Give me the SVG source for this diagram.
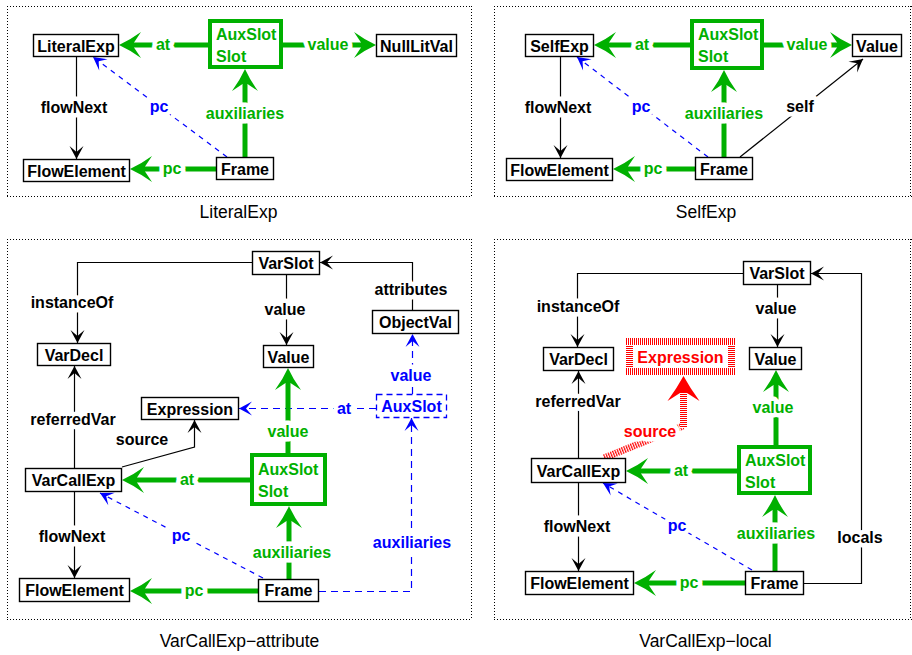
<svg xmlns="http://www.w3.org/2000/svg" width="912" height="655" viewBox="0 0 912 655">
<style>
  .frame{fill:none;stroke:#000;stroke-width:1;stroke-dasharray:1 2;shape-rendering:crispEdges}
  .cap{font-family:'Liberation Sans',Arial,sans-serif;font-size:17.5px;fill:#000;text-anchor:middle}
  .box{fill:#fff;stroke:#000;stroke-width:1.4}
  .nt{font-family:'Liberation Sans',Arial,sans-serif;font-weight:bold;font-size:16px;text-anchor:middle;fill:#000}
  .slot{fill:#fff;stroke:#00b000;stroke-width:4}
  .st{font-family:'Liberation Sans',Arial,sans-serif;font-weight:bold;font-size:16px;fill:#00b000}
  .aux{fill:#fff;stroke:#0000ff;stroke-width:1.3;stroke-dasharray:6 4}
  .bt{fill:#0000ff}
  .rt{fill:#f00}
  .g{fill:none;stroke:#00b000;stroke-width:5;marker-end:url(#ahG)}
  .k{fill:none;stroke:#000;stroke-width:1.2}
  .ka{marker-end:url(#ahK)}
  .b{fill:none;stroke:#0000ff;stroke-width:1.2;stroke-dasharray:5 5;marker-end:url(#ahB)}
  .bl{fill:none;stroke:#0000ff;stroke-width:1.2;stroke-dasharray:7 5;marker-end:url(#ahB)}
  .lbl{font-family:'Liberation Sans',Arial,sans-serif;font-weight:bold;font-size:16px;text-anchor:middle;stroke:#fff;stroke-width:9;stroke-linejoin:round;paint-order:stroke}
  .lg{fill:#00b000}.lk{fill:#000}.lb{fill:#0000ff}.lr{fill:#f00}
</style>
<defs>
  <marker id="ahG" markerUnits="userSpaceOnUse" viewBox="-24 -15 26 30" refX="-14" refY="0" markerWidth="26" markerHeight="30" orient="auto">
    <path d="M0,0 Q-11,-5 -22,-13 L-15,-2.5 L-15,2.5 L-22,13 Q-11,5 0,0 Z" fill="#00b000"/>
  </marker>
  <marker id="ahK" markerUnits="userSpaceOnUse" viewBox="-15 -9 16 18" refX="0" refY="0" markerWidth="16" markerHeight="18" orient="auto">
    <path d="M0,0 L-13,-7 L-7,0 L-13,7 Z" fill="#000"/>
  </marker>
  <marker id="ahB" markerUnits="userSpaceOnUse" viewBox="-15 -9 16 18" refX="0" refY="0" markerWidth="16" markerHeight="18" orient="auto">
    <path d="M0,0 L-13,-7 L-7,0 L-13,7 Z" fill="#0000ff"/>
  </marker>
  <!-- striped red fills for the highlighted (hatched) element -->
  <pattern id="stripeV" patternUnits="userSpaceOnUse" width="2" height="2">
    <rect width="2" height="2" fill="#fff"/><rect width="1" height="2" fill="#f00"/>
  </pattern>
  <pattern id="stripeH" patternUnits="userSpaceOnUse" width="2" height="2">
    <rect width="2" height="2" fill="#fff"/><rect width="2" height="1" fill="#f00"/>
  </pattern>
  <pattern id="stripeD" patternUnits="userSpaceOnUse" width="2.4" height="2.4" patternTransform="rotate(-22)">
    <rect width="2.4" height="2.4" fill="#fff"/><rect width="1.2" height="2.4" fill="#f00"/>
  </pattern>
</defs>

<!-- panel frames (dotted, one line per side) and captions -->
<g id="frames">
  <line class="frame" x1="7" y1="6.5" x2="472" y2="6.5"/>
  <line class="frame" x1="7" y1="196.5" x2="472" y2="196.5"/>
  <line class="frame" x1="7.5" y1="6" x2="7.5" y2="197"/>
  <line class="frame" x1="471.5" y1="6" x2="471.5" y2="197"/>
  <line class="frame" x1="494" y1="6.5" x2="912" y2="6.5"/>
  <line class="frame" x1="494" y1="196.5" x2="912" y2="196.5"/>
  <line class="frame" x1="494.5" y1="6" x2="494.5" y2="197"/>
  <line class="frame" x1="910.5" y1="6" x2="910.5" y2="197"/>
  <line class="frame" x1="7" y1="239.5" x2="472" y2="239.5"/>
  <line class="frame" x1="7" y1="619.5" x2="472" y2="619.5"/>
  <line class="frame" x1="7.5" y1="239" x2="7.5" y2="620"/>
  <line class="frame" x1="471.5" y1="239" x2="471.5" y2="620"/>
  <line class="frame" x1="494" y1="239.5" x2="912" y2="239.5"/>
  <line class="frame" x1="494" y1="619.5" x2="912" y2="619.5"/>
  <line class="frame" x1="494.5" y1="239" x2="494.5" y2="620"/>
  <line class="frame" x1="910.5" y1="239" x2="910.5" y2="620"/>
  <text class="cap" x="238.5" y="218">LiteralExp</text>
  <text class="cap" x="706" y="218">SelfExp</text>
  <text class="cap" x="239.5" y="647">VarCallExp−attribute</text>
  <text class="cap" x="705.5" y="647">VarCallExp−local</text>
</g>

<g id="connectors">
  <!-- LiteralExp -->
  <path class="b" d="M227,157 L93,57"/>
  <path class="k ka" d="M76.5,57 V159"/>
  <path class="g" d="M208,45 H133"/>
  <path class="g" d="M283,45 H362"/>
  <path class="g" d="M245,157 V83"/>
  <path class="g" d="M216,169 H144"/>
  <text class="lbl lg" x="163" y="50">at</text>
  <text class="lbl lg" x="328" y="50">value</text>
  <text class="lbl lg" x="245" y="119">auxiliaries</text>
  <text class="lbl lg" x="172" y="174">pc</text>
  <text class="lbl lb" x="159" y="112">pc</text>
  <text class="lbl lk" x="74" y="113">flowNext</text>

  <!-- SelfExp -->
  <path class="b" d="M708,157 L577,57"/>
  <path class="k ka" d="M560.5,57 V158"/>
  <path class="k ka" d="M740,157 L863,59"/>
  <path class="g" d="M690,45 H608"/>
  <path class="g" d="M764,45 H838"/>
  <path class="g" d="M724,157 V84"/>
  <path class="g" d="M695,169 H627"/>
  <text class="lbl lg" x="642" y="50">at</text>
  <text class="lbl lg" x="807" y="50">value</text>
  <text class="lbl lg" x="724" y="119">auxiliaries</text>
  <text class="lbl lg" x="653" y="174">pc</text>
  <text class="lbl lb" x="641" y="112">pc</text>
  <text class="lbl lk" x="558" y="113">flowNext</text>
  <text class="lbl lk" x="800" y="112">self</text>

  <!-- VarCallExp-attribute -->
  <path class="k ka" d="M252,262.5 H77.5 V343"/>
  <path class="k ka" d="M286.5,275 V345"/>
  <path class="k ka" d="M412.5,310 V262.5 H320"/>
  <path class="k ka" d="M74.5,468 V366"/>
  <path class="k ka" d="M74.5,492 V578"/>
  <path class="k ka" d="M122,467 L194.5,447 V420"/>
  <path class="bl" d="M412.5,394 V334"/>
  <path class="bl" d="M376,408.5 H239"/>
  <path class="bl" d="M319,591.5 H411.5 V418"/>
  <path class="b" d="M263,578 L100,493"/>
  <path class="g" d="M288,453 V382"/>
  <path class="g" d="M250,480 H136"/>
  <path class="g" d="M289,579 V520"/>
  <path class="g" d="M258,591 H144"/>
  <text class="lbl lk" x="72" y="308">instanceOf</text>
  <text class="lbl lk" x="285" y="315">value</text>
  <text class="lbl lk" x="411" y="295">attributes</text>
  <text class="lbl lb" x="411" y="381">value</text>
  <text class="lbl lb" x="344" y="414">at</text>
  <text class="lbl lg" x="288" y="437">value</text>
  <text class="lbl lg" x="187" y="485">at</text>
  <text class="lbl lg" x="292" y="558">auxiliaries</text>
  <text class="lbl lg" x="194" y="596">pc</text>
  <text class="lbl lb" x="181" y="541">pc</text>
  <text class="lbl lb" x="412" y="548">auxiliaries</text>
  <text class="lbl lk" x="73" y="425">referredVar</text>
  <text class="lbl lk" x="72" y="542">flowNext</text>
  <text class="lbl lk" x="142" y="445">source</text>

  <!-- VarCallExp-local -->
  <path class="k ka" d="M743,273.5 H577.5 V347"/>
  <path class="k ka" d="M777.5,285 V347"/>
  <path class="k ka" d="M804,583.5 H861.5 V273.5 H811"/>
  <path class="k ka" d="M578.5,458 V371"/>
  <path class="k ka" d="M578.5,483 V571"/>
  <path class="b" d="M752,570 L603,483"/>
  <g id="source-highlight">
    <polygon points="605.3,461.2 684.3,429.2 681.7,422.8 602.7,454.8" fill="url(#stripeD)"/>
    <rect x="680" y="393" width="7" height="35" fill="url(#stripeH)"/>
    <path d="M683.5,376 Q690,388 699.5,401 L687,393 L680,393 L667.5,401 Q677,388 683.5,376 Z" fill="#f00"/>
  </g>
  <path class="g" d="M776,445 V384"/>
  <path class="g" d="M737,471 H640"/>
  <path class="g" d="M775,571 V509"/>
  <path class="g" d="M745,583 H648"/>
  <text class="lbl lk" x="578" y="312">instanceOf</text>
  <text class="lbl lk" x="776" y="314">value</text>
  <text class="lbl lk" x="578" y="407">referredVar</text>
  <text class="lbl lg" x="773" y="413">value</text>
  <text class="lbl lr" x="650" y="437">source</text>
  <text class="lbl lg" x="681" y="476">at</text>
  <text class="lbl lk" x="577" y="532">flowNext</text>
  <text class="lbl lb" x="677" y="531">pc</text>
  <text class="lbl lg" x="689" y="588">pc</text>
  <text class="lbl lg" x="776" y="539">auxiliaries</text>
  <text class="lbl lk" x="860" y="543">locals</text>
</g>

<!-- LiteralExp nodes -->
<g id="p1-literalexp"><rect class="box" x="33.5" y="34.5" width="85" height="22"/><text class="nt" x="76" y="51.5">LiteralExp</text></g>
<g id="p1-nulllitval"><rect class="box" x="376.5" y="34.5" width="80" height="22"/><text class="nt" x="416.5" y="51.5">NullLitVal</text></g>
<g id="p1-flowelement"><rect class="box" x="23.5" y="159.5" width="106" height="22"/><text class="nt" x="76.5" y="176.5">FlowElement</text></g>
<g id="p1-frame"><rect class="box" x="216.5" y="157.5" width="57" height="22"/><text class="nt" x="245" y="174.5">Frame</text></g>
<g id="p1-auxslot"><rect class="slot" x="210" y="21" width="71" height="46"/><text class="st" x="216" y="40">AuxSlot</text><text class="st" x="216" y="62">Slot</text></g>

<!-- SelfExp nodes -->
<g id="p2-selfexp"><rect class="box" x="525.5" y="34.5" width="68" height="22"/><text class="nt" x="559.5" y="51.5">SelfExp</text></g>
<g id="p2-value"><rect class="box" x="852.5" y="34.5" width="49" height="22"/><text class="nt" x="877" y="51.5">Value</text></g>
<g id="p2-flowelement"><rect class="box" x="506.5" y="158.5" width="106" height="22"/><text class="nt" x="559.5" y="175.5">FlowElement</text></g>
<g id="p2-frame"><rect class="box" x="695.5" y="157.5" width="57" height="22"/><text class="nt" x="724" y="174.5">Frame</text></g>
<g id="p2-auxslot"><rect class="slot" x="692" y="21" width="70" height="47"/><text class="st" x="698" y="40">AuxSlot</text><text class="st" x="698" y="62">Slot</text></g>

<!-- VarCallExp-attribute nodes -->
<g id="p3-varslot"><rect class="box" x="252.5" y="251.5" width="67" height="23"/><text class="nt" x="286" y="269">VarSlot</text></g>
<g id="p3-value"><rect class="box" x="263.5" y="345.5" width="50" height="22"/><text class="nt" x="288.5" y="362.5">Value</text></g>
<g id="p3-objectval"><rect class="box" x="372.5" y="310.5" width="86" height="23"/><text class="nt" x="415.5" y="328">ObjectVal</text></g>
<g id="p3-auxslot-attr"><rect class="aux" x="376.5" y="394.5" width="70" height="23"/><text class="nt bt" x="411.5" y="412">AuxSlot</text></g>
<g id="p3-vardecl"><rect class="box" x="37.5" y="343.5" width="73" height="22"/><text class="nt" x="74" y="360.5">VarDecl</text></g>
<g id="p3-expression"><rect class="box" x="141.5" y="397.5" width="97" height="22"/><text class="nt" x="190" y="414.5">Expression</text></g>
<g id="p3-varcallexp"><rect class="box" x="25.5" y="468.5" width="96" height="23"/><text class="nt" x="73.5" y="486">VarCallExp</text></g>
<g id="p3-flowelement"><rect class="box" x="19.5" y="578.5" width="110" height="23"/><text class="nt" x="74.5" y="596">FlowElement</text></g>
<g id="p3-auxslot"><rect class="slot" x="252" y="455" width="73" height="49"/><text class="st" x="258" y="475">AuxSlot</text><text class="st" x="258" y="497">Slot</text></g>
<g id="p3-frame"><rect class="box" x="258.5" y="579.5" width="60" height="22"/><text class="nt" x="288.5" y="596">Frame</text></g>

<!-- VarCallExp-local nodes -->
<g id="p4-varslot"><rect class="box" x="743.5" y="261.5" width="67" height="23"/><text class="nt" x="777" y="279">VarSlot</text></g>
<g id="p4-value"><rect class="box" x="749.5" y="347.5" width="52" height="22"/><text class="nt" x="775.5" y="364.5">Value</text></g>
<g id="p4-vardecl"><rect class="box" x="543.5" y="347.5" width="70" height="23"/><text class="nt" x="578.5" y="365">VarDecl</text></g>
<g id="p4-expression">
  <rect x="626" y="338" width="109" height="37" fill="#fff"/>
  <rect x="626" y="338" width="109" height="7" fill="url(#stripeV)"/>
  <rect x="626" y="368" width="109" height="7" fill="url(#stripeV)"/>
  <rect x="626" y="345" width="7" height="23" fill="url(#stripeH)"/>
  <rect x="728" y="345" width="7" height="23" fill="url(#stripeH)"/>
  <text class="nt rt" x="680.5" y="363">Expression</text>
</g>
<g id="p4-varcallexp"><rect class="box" x="531.5" y="458.5" width="94" height="24"/><text class="nt" x="578.5" y="476.5">VarCallExp</text></g>
<g id="p4-flowelement"><rect class="box" x="525.5" y="571.5" width="108" height="23"/><text class="nt" x="579.5" y="589">FlowElement</text></g>
<g id="p4-auxslot"><rect class="slot" x="739" y="447" width="71" height="46"/><text class="st" x="745" y="466">AuxSlot</text><text class="st" x="745" y="488">Slot</text></g>
<g id="p4-frame"><rect class="box" x="745.5" y="571.5" width="58" height="23"/><text class="nt" x="774.5" y="589">Frame</text></g>
</svg>
